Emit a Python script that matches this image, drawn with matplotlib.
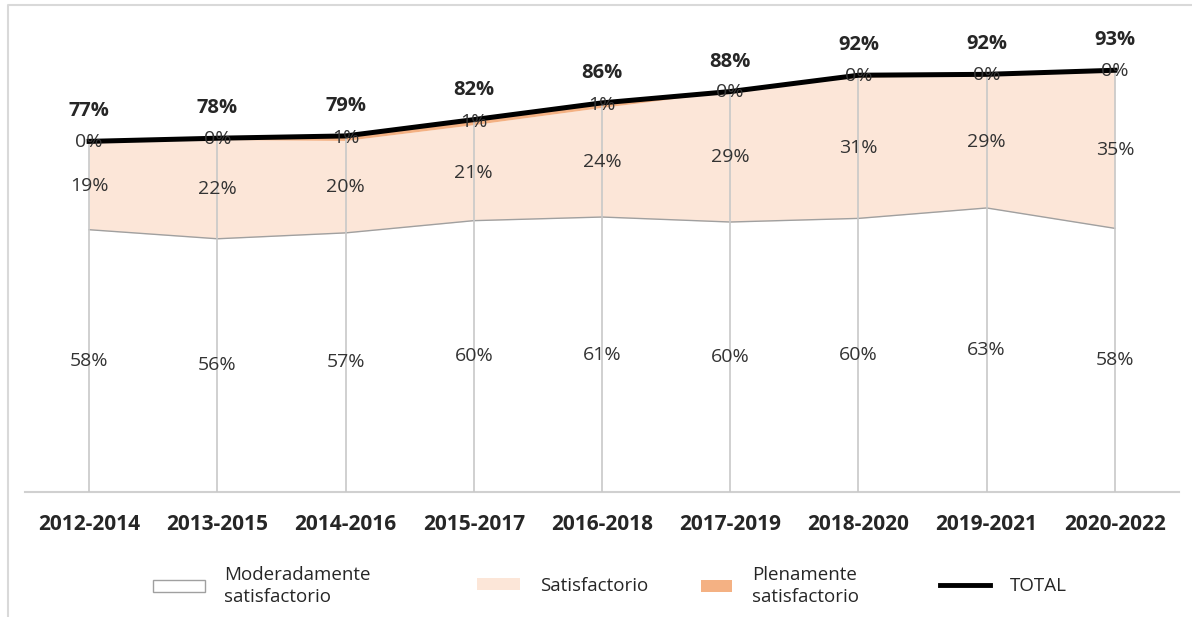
import numpy as np
import matplotlib.pyplot as plt
from matplotlib.lines import Line2D
from matplotlib.patches import Patch

plt.rcParams['font.family'] = ['Open Sans', 'DejaVu Sans']

# datos
periodos = ["2012-2014", "2013-2015", "2014-2016", "2015-2017", "2016-2018",
            "2017-2019", "2018-2020", "2019-2021", "2020-2022"]
moderado = [57.9, 55.9, 57.2, 59.9, 60.7, 59.6, 60.4, 62.7, 58.2]
satisfactorio = [19.3, 21.9, 20.4, 21.2, 24.2, 28.8, 31.2, 29.2, 34.6]
plenamente = [0.2, 0.3, 1.0, 1.1, 1.0, 0.0, 0.4, 0.3, 0.3]
total = [77.4, 78.1, 78.6, 82.2, 85.9, 88.4, 92.0, 92.2, 93.1]

W, H = 1192, 617
fig = plt.figure(figsize=(W / 100, H / 100), dpi=100)
ax = fig.add_axes([25 / W, 1 - 492 / H, 1154 / W, 453 / H])

x = np.arange(len(periodos))
m = np.array(moderado)
s = np.array(satisfactorio)
p = np.array(plenamente)

# areas apiladas
ax.fill_between(x, 0, m, color="white", zorder=1)
ax.plot(x, m, color="#A0A0A0", lw=1, zorder=2)
ax.fill_between(x, m, m + s, color="#FCE6D8", lw=0, zorder=1)
ax.fill_between(x, m + s, m + s + p, color="#F4B183", lw=0, zorder=1)

# lineas de caida
for i in x:
    ax.plot([i, i], [0, m[i] + s[i] + p[i]], color="#C8C8C8", lw=1.2, zorder=3)

# total
ax.plot(x, total, color="black", lw=3.6, zorder=4)

# etiquetas
for i in x:
    ax.text(i, m[i] / 2, f"{m[i]:.0f}%", ha="center", va="center",
            fontsize=14, color="#333333", zorder=5)
    ax.text(i, m[i] + s[i] / 2, f"{s[i]:.0f}%", ha="center", va="center",
            fontsize=14, color="#333333", zorder=5)
    ax.text(i, m[i] + s[i] + p[i] / 2, f"{p[i]:.0f}%", ha="center", va="center",
            fontsize=14, color="#333333", zorder=5)
    ax.annotate(f"{total[i]:.0f}%", (i, total[i]), xytext=(0, 30),
                textcoords="offset pixels", ha="center", va="center",
                fontsize=14.5, fontweight="bold", color="#262626", zorder=5)

ax.set_xlim(-0.5, len(periodos) - 0.5)
ax.set_ylim(0, 100)
ax.set_xticks(x)
ax.set_xticklabels(periodos, fontsize=15, fontweight="bold", color="#262626")
ax.tick_params(axis="x", length=0, pad=16)
ax.set_yticks([])
for lado in ["top", "right", "left"]:
    ax.spines[lado].set_visible(False)
ax.spines["bottom"].set_color("#D0D0D0")
ax.spines["bottom"].set_linewidth(1.5)

# marco del grafico
fig.add_artist(Line2D([8 / W, 8 / W, 1.0], [0.0, 1 - 5 / H, 1 - 5 / H],
                      transform=fig.transFigure, color="#D9D9D9", lw=1.5))

# leyenda: (handle, texto, x inicio, largo del handle)
items = [
    (Patch(facecolor="white", edgecolor="#A0A0A0"), "Moderadamente\nsatisfactorio", 153, 2.75),
    (Patch(facecolor="#FCE6D8", edgecolor="none"), "Satisfactorio", 477, 2.3),
    (Patch(facecolor="#F4B183", edgecolor="none"), "Plenamente\nsatisfactorio", 701, 1.65),
    (Line2D([], [], color="black", lw=3.5), "TOTAL", 940, 2.65),
]
for h, lab, px, hl in items:
    leg = fig.legend([h], [lab], loc="center left", bbox_to_anchor=(px / W, 1 - 586 / H),
                     frameon=False, fontsize=13.5, handlelength=hl, handleheight=0.6,
                     handletextpad=1.05, borderaxespad=0, borderpad=0,
                     labelcolor="#262626")
    for t in leg.get_texts():
        t.set_linespacing(1.35)

fig.savefig("out.png", dpi=100)
